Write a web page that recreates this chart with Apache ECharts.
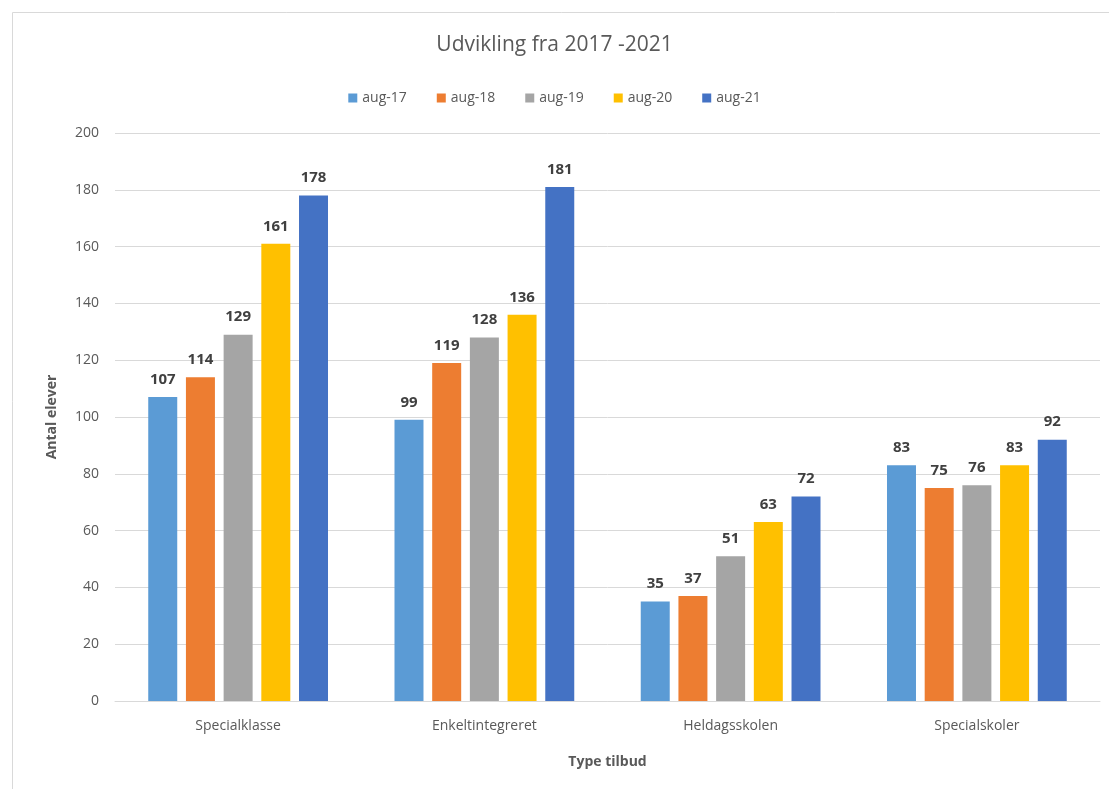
<!DOCTYPE html>
<html><head><meta charset="utf-8">
<script src="https://cdn.jsdelivr.net/npm/echarts@6/dist/echarts.min.js"></script>
<style>html,body{margin:0;padding:0;background:#fff}#c{width:1109px;height:789px}</style>
</head><body><div id="c"></div>
<script>
const categories = ['Specialklasse','Enkeltintegreret','Heldagsskolen','Specialskoler'];
const seriesNames = ['aug-17','aug-18','aug-19','aug-20','aug-21'];
const aug17 = [107, 99, 35, 83];
const aug18 = [114, 119, 37, 75];
const aug19 = [129, 128, 51, 76];
const aug20 = [161, 136, 63, 83];
const aug21 = [178, 181, 72, 92];
const yTicks = [0,20,40,60,80,100,120,140,160,180,200];
const colors = ['#5B9BD5','#ED7D31','#A5A5A5','#FFC000','#4472C4'];
const values = [aug17, aug18, aug19, aug20, aug21];
const font = '"Open Sans", "Liberation Sans", sans-serif';

const chart = echarts.init(document.getElementById('c'));
chart.setOption({
  animation: false,
  color: colors,
  textStyle: {fontFamily: font},
  graphic: [{type:'rect', left:10, top:10, shape:{width:1120, height:800}, style:{fill:'none', stroke:'#d9d9d9', lineWidth:1}, silent:true}],
  title: {text: 'Udvikling fra 2017 -2021', left: 'center', top: 30,
    textStyle: {fontFamily: font, fontSize: 21, fontWeight: 'normal', color: '#595959'}},
  legend: {data: seriesNames, top: 86, left: 'center', itemWidth: 9, itemHeight: 9, itemGap: 30,
    icon: 'rect', textStyle: {fontFamily: font, fontSize: 14, color: '#595959'}},
  grid: {left: 115, right: 9, top: 133, bottom: 88},
  xAxis: {type: 'category', data: categories,
    axisLine: {lineStyle: {color: '#d9d9d9'}}, axisTick: {show: false},
    axisLabel: {fontFamily: font, fontSize: 14, color: '#595959', margin: 18},
    name: 'Type tilbud', nameLocation: 'middle', nameGap: 54,
    nameTextStyle: {fontFamily: font, fontSize: 14, fontWeight: 'bold', color: '#595959'}},
  yAxis: {type: 'value', min: 0, max: 200, interval: 20,
    axisLine: {show: false}, axisTick: {show: false},
    splitLine: {lineStyle: {color: '#d9d9d9'}},
    axisLabel: {fontFamily: font, fontSize: 14, color: '#595959', margin: 16,
      formatter: v => yTicks.includes(v) ? String(v) : ''},
    name: 'Antal elever', nameLocation: 'middle', nameGap: 56, nameRotate: 90,
    nameTextStyle: {fontFamily: font, fontSize: 14, fontWeight: 'bold', color: '#595959'}},
  series: seriesNames.map((n, i) => ({
    name: n, type: 'bar', data: values[i],
    barGap: '30%', barCategoryGap: '27%',
    label: {show: true, position: 'top', distance: 10, fontFamily: font, fontSize: 15,
      fontWeight: 'bold', color: '#404040'}
  }))
});
</script></body></html>
